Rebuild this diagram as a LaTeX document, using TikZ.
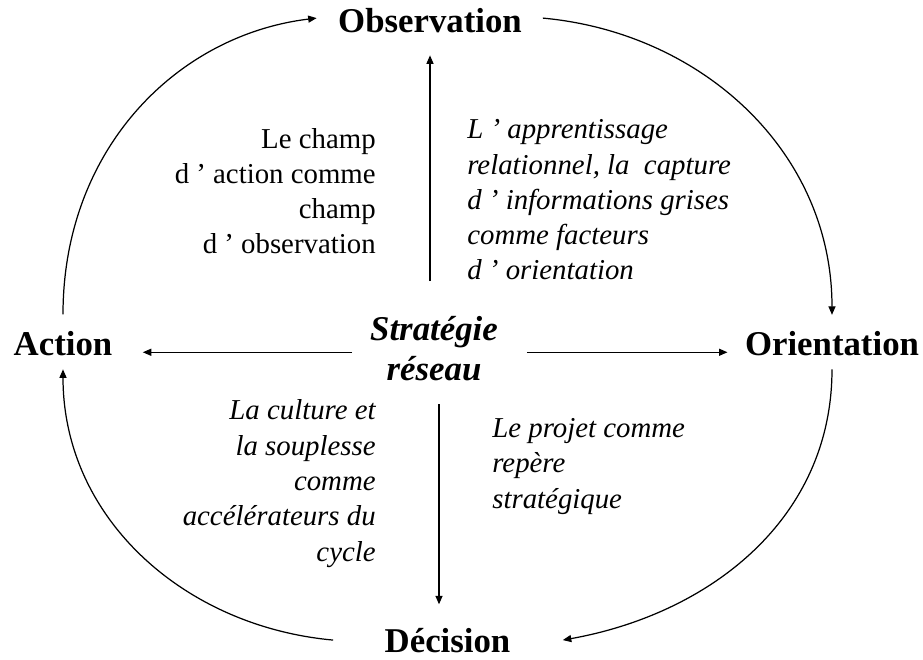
\documentclass[tikz,border=0pt]{standalone}
\usepackage{fontspec}
\setmainfont{Liberation Serif}
\usetikzlibrary{arrows.meta}
\usetikzlibrary{positioning}

\begin{document}
\begin{tikzpicture}[
		phase/.style={font=\fontsize{19.8}{22.8}\selectfont\bfseries, inner sep=0pt, outer sep=0pt, anchor=base},
		centre/.style={font=\fontsize{19.8}{22.3}\selectfont\bfseries\itshape, align=center, inner sep=0pt, outer sep=0pt, anchor=base},
		remark/.style={font=\fontsize{16.4}{20.1}\selectfont, inner sep=0pt},
		remark it/.style={font=\fontsize{16.4}{20.1}\selectfont\itshape, inner sep=0pt},
		looparc/.style={draw, line width=0.7pt, -{Triangle[length=1.7mm, width=1.4mm]}},
		spoke/.style={draw, line width=0.75pt, -{Triangle[length=1.7mm, width=1.4mm]}}
	]
	\useasboundingbox (0,0) rectangle (18.46,13.18);

	% the four phases and the centre
	\node[phase] (obs) at (8.60,12.52) {Observation};
	\node[phase] (ori) at (16.64,6.06) {Orientation};
	\node[phase] (dec) at (8.95,0.14) {Décision};
	\node[phase] (act) at (1.26,6.06) {Action};
	\node[centre] (strat) at (8.68,5.58) {Stratégie\\réseau};

	% comments in each quarter (placed by their last line)
	\node[remark, align=right, anchor=base east] (champ) at (7.52,8.10)
		{Le champ\\d ’ action comme\\champ\\d ’ observation};
	\node[remark it, align=left, anchor=base west] (appr) at (9.34,7.58)
		{L ’ apprentissage\\relationnel, la~ capture\\d ’ informations grises\\comme facteurs\\d ’ orientation};
	\node[remark it, align=right, anchor=base east] (cult) at (7.52,1.96)
		{La culture et\\la souplesse\\comme\\accélérateurs du\\cycle};
	\node[remark it, align=left, anchor=base west] (proj) at (9.84,3.02)
		{Le projet comme\\repère\\stratégique};

	% cycle arcs
	\draw[looparc] ([yshift=3.5mm]act.north) .. controls +(0,3.3) and +(-2.8,-0.34) .. ([xshift=-4.3mm, yshift=0.6mm]obs.west);
	\draw[looparc] ([xshift=4.2mm, yshift=0.6mm]obs.east) .. controls +(3.18,-0.29) and +(0,3.27) .. ([yshift=3.4mm]ori.north);
	\draw[looparc] ([yshift=-2.6mm]ori.south) .. controls +(0,-2.98) and +(2.96,0.53) .. ([xshift=10.5mm]dec.east);
	\draw[looparc] ([xshift=-10.3mm]dec.west) .. controls +(-2.98,0.27) and +(0,-2.98) .. ([yshift=-2.6mm]act.south);

	% spokes from the centre
	\draw[spoke, shorten <=7.1mm, shorten >=4.4mm] ([xshift=-0.8mm]strat.north) -- ([xshift=-0.8mm]strat.north |- obs.south);
	\draw[spoke, shorten <=3.6mm, shorten >=6.1mm] ([yshift=-0.75mm]strat.west) -- ([yshift=-0.75mm]strat.west -| act.east);
	\draw[spoke, shorten <=5.8mm, shorten >=3.5mm] ([yshift=-0.75mm]strat.east) -- ([yshift=-0.75mm]strat.east -| ori.west);
	\draw[spoke, shorten <=4.8mm, shorten >=4.7mm] ([xshift=1mm]strat.south) -- ([xshift=1mm]strat.south |- dec.north);
\end{tikzpicture}
\end{document}
